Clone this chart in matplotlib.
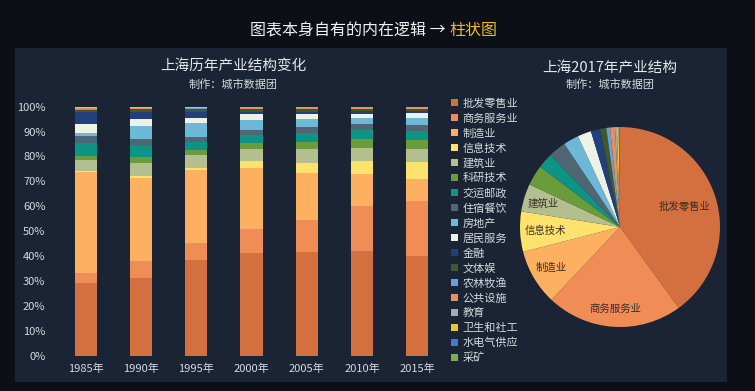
import matplotlib
matplotlib.use("Agg")
import matplotlib.pyplot as plt
import numpy as np

plt.rcParams['font.family'] = ['Noto Sans CJK SC', 'DejaVu Sans']

# Data
industries = ["批发零售业", "商务服务业", "制造业", "信息技术", "建筑业", "科研技术",
              "交运邮政", "住宿餐饮", "房地产", "居民服务", "金融", "文体娱",
              "农林牧渔", "公共设施", "教育", "卫生和社工", "水电气供应", "采矿"]
years = ["1985年", "1990年", "1995年", "2000年", "2005年", "2010年", "2015年"]

share_1985 = [29.0, 4.0, 40.7, 0.3, 4.5, 1.6, 5.3, 2.7, 1.5, 3.4, 4.8, 1.0, 0.2, 0.4, 0.1, 0.3, 0.1, 0.1]
share_1990 = [31.1, 6.9, 33.4, 0.7, 5.4, 2.4, 4.4, 2.6, 5.5, 2.6, 3.0, 0.9, 0.2, 0.3, 0.1, 0.3, 0.1, 0.1]
share_1995 = [38.4, 6.9, 29.2, 1.0, 5.1, 2.0, 3.3, 2.0, 5.4, 2.3, 2.1, 1.4, 0.2, 0.2, 0.1, 0.2, 0.1, 0.1]
share_2000 = [41.1, 9.6, 24.5, 3.1, 4.7, 2.5, 3.1, 2.0, 4.0, 2.3, 1.1, 1.1, 0.1, 0.3, 0.2, 0.1, 0.1, 0.1]
share_2005 = [41.7, 12.7, 19.1, 4.0, 5.3, 3.1, 3.6, 2.2, 3.3, 1.9, 1.1, 0.9, 0.2, 0.4, 0.2, 0.1, 0.1, 0.1]
share_2010 = [42.1, 17.9, 12.8, 5.3, 5.4, 3.4, 3.7, 2.3, 2.4, 1.8, 1.2, 0.8, 0.1, 0.3, 0.2, 0.1, 0.1, 0.1]
share_2015 = [40.1, 22.1, 8.7, 7.0, 5.1, 3.6, 3.6, 2.4, 2.7, 2.3, 0.8, 0.7, 0.1, 0.2, 0.3, 0.1, 0.1, 0.1]

share_2017 = [40.0, 22.0, 9.0, 6.5, 4.5, 3.3, 2.5, 2.8, 2.5, 2.2, 1.5, 1.0, 0.6, 0.8, 0.3, 0.3, 0.1, 0.1]
pie_labels = ["批发零售业", "商务服务业", "制造业", "信息技术", "建筑业"]

colors = ["#d4703f", "#f08c56", "#fdb05f", "#fde36d", "#b3bf8e", "#6b9c3c",
          "#0e9484", "#4f6775", "#6cb8d6", "#eef2e4", "#213f7b", "#3e5a2a",
          "#6aa0d8", "#e8905a", "#a8a8b0", "#f0c040", "#4a78c8", "#7aae50"]

bg_outer = "#0c1016"
bg_panel = "#1a2434"
text_col = "#d6d9dd"

shares = np.array([share_1985, share_1990, share_1995, share_2000,
                   share_2005, share_2010, share_2015])

fig = plt.figure(figsize=(7.55, 3.91), dpi=100, facecolor=bg_outer)

# panel background
panel = plt.Rectangle((15 / 755, 1 - 382 / 391), 712 / 755, 334 / 391,
                      transform=fig.transFigure, facecolor=bg_panel, edgecolor="none", zorder=-10)
fig.patches.append(panel)

# heading
fig.text(446 / 755, 1 - 31 / 391, "图表本身自有的内在逻辑 →", color="#f2f2f2",
         fontsize=11.5, ha="right", va="center")
fig.text(449 / 755, 1 - 31 / 391, "柱状图", color="#f5b820",
         fontsize=11.5, ha="left", va="center")

# stacked bar chart
ax = fig.add_axes([58 / 755, 1 - 355.5 / 391, 387 / 755, 248.8 / 391])
ax.set_facecolor("none")
x = np.arange(len(years))
bottom = np.zeros(len(years))
handles = []
for i, name in enumerate(industries):
    b = ax.bar(x, shares[:, i], 0.4, bottom=bottom, color=colors[i], label=name)
    bottom += shares[:, i]
    handles.append(b)

ax.set_xlim(-0.5, len(years) - 0.5)
ax.set_ylim(0, 100)
ax.set_yticks(np.arange(0, 101, 10))
ax.set_yticklabels([f"{v}%" for v in range(0, 101, 10)])
ax.set_xticks(x)
ax.set_xticklabels(years)
ax.tick_params(length=0, colors=text_col, labelsize=8)
ax.tick_params(axis="y", pad=9)
ax.tick_params(axis="x", pad=6)
for s in ax.spines.values():
    s.set_visible(False)

fig.text(233 / 755, 1 - 66 / 391, "上海历年产业结构变化", color="#e4e6ea",
         fontsize=10.5, ha="center", va="center")
fig.text(233 / 755, 1 - 84 / 391, "制作：城市数据团", color=text_col,
         fontsize=8, ha="center", va="center")

leg = fig.legend(handles=handles, labels=industries, loc="upper left",
                 bbox_to_anchor=(447 / 755, 1 - 94 / 391), frameon=False,
                 fontsize=8, handlelength=0.6, handleheight=0.6,
                 handletextpad=0.4, labelspacing=0.41, borderaxespad=0)
for t in leg.get_texts():
    t.set_color(text_col)

# pie chart
pax = fig.add_axes([520 / 755, 1 - 327 / 391, 200 / 755, 200 / 391])
wedges, _ = pax.pie(share_2017, colors=colors, startangle=90, counterclock=False,
                    radius=1)
pax.set_xlim(-1, 1)
pax.set_ylim(-1, 1)
pax.set_aspect("equal")

cum = np.cumsum(share_2017) - np.array(share_2017) / 2
total = sum(share_2017)
label_r = [0.68, 0.82, 0.8, 0.75, 0.8]
for i, name in enumerate(pie_labels):
    ang = np.deg2rad(90 - cum[i] / total * 360)
    pax.text(label_r[i] * np.cos(ang), label_r[i] * np.sin(ang), name,
             ha="center", va="center", fontsize=7.5, color="#3a2e28")

fig.text(610 / 755, 1 - 68 / 391, "上海2017年产业结构", color="#e4e6ea",
         fontsize=10.5, ha="center", va="center")
fig.text(610 / 755, 1 - 84 / 391, "制作：城市数据团", color=text_col,
         fontsize=8, ha="center", va="center")

fig.savefig("out.png", dpi=100, facecolor=bg_outer)
